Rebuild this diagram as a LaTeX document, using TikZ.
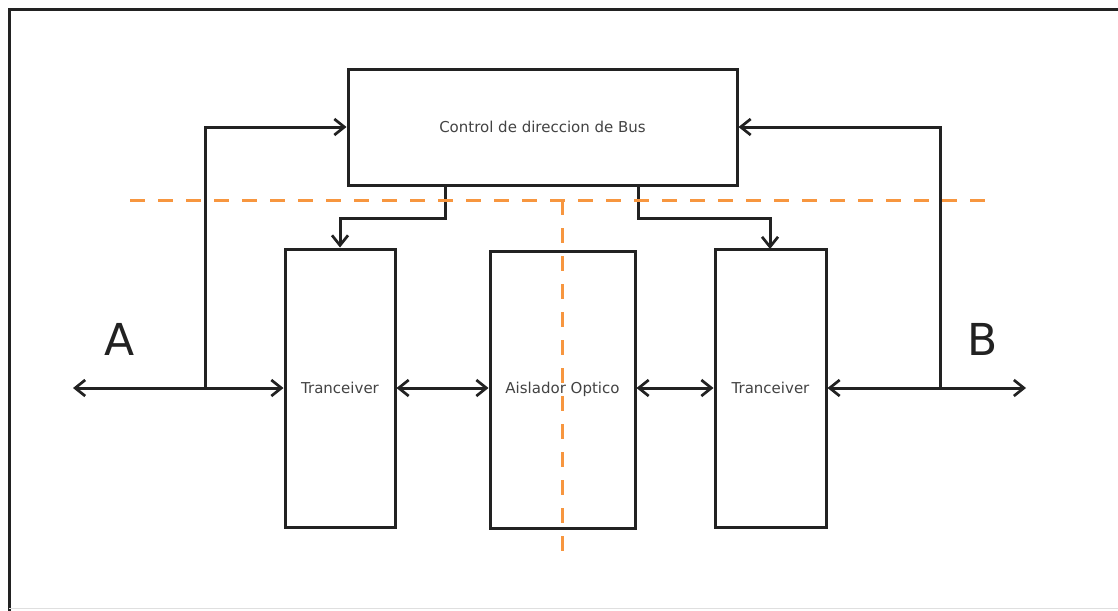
\documentclass[tikz,border=0pt]{standalone}
\usepackage{fontspec}
\setmainfont{DejaVu Sans}
\usetikzlibrary{arrows.meta}
\definecolor{guide}{HTML}{F7963F}
\definecolor{ink}{HTML}{222222}
\tikzset{
  block/.style={draw=ink, line width=3pt, fill=white, inner sep=0pt},
  blocklabel/.style={font=\fontsize{15}{17}\selectfont, text=ink!85},
  wire/.style={draw=ink, line width=3pt},
  tip/.style={-{Straight Barb[length=10pt,width=16pt,line width=2.7pt]}},
  twotip/.style={{Straight Barb[length=10pt,width=16pt,line width=2.7pt]}-{Straight Barb[length=10pt,width=16pt,line width=2.7pt]}},
  guideline/.style={draw=guide, line width=3pt, dash pattern=on 15pt off 13pt},
  portlabel/.style={font=\fontsize{44}{48}\selectfont, text=ink}
}
\begin{document}
\begin{tikzpicture}[x=1pt,y=-1pt]
  \useasboundingbox (0,0) rectangle (1118,610);
  \fill[white] (0,0) rectangle (1118,610);
  % outer frame
  \draw[ink, line width=3pt] (9,612) -- (9,10) -- (1125,10);
  \draw[gray!25, line width=1.5pt] (9,608.5) -- (1125,608.5);

  % blocks
  \node[block, minimum width=389pt, minimum height=116pt] (ctrl) at (542.5,127) {};
  \node[blocklabel] at (ctrl.center) {Control de direccion de Bus};
  \node[block, minimum width=110pt, minimum height=278pt] (tl) at (340,388) {};
  \node[blocklabel] at (tl.center) {Tranceiver};
  \node[block, minimum width=145pt, minimum height=277pt] (iso) at (562.5,389.5) {};
  \node[block, minimum width=111pt, minimum height=278pt] (tr) at (770.5,388) {};
  \node[blocklabel] at (tr.center) {Tranceiver};

  % bus ends and branch points
  \coordinate (aend) at (73,388);
  \coordinate (bend) at (1026,388);
  \coordinate (ja) at (205,388);
  \coordinate (jb) at (940,388);

  % bus connections
  \draw[wire, twotip] (aend) -- (tl.west |- aend);
  \draw[wire, twotip] (tl.east |- aend) -- (iso.west |- aend);
  \draw[wire, twotip] (iso.east |- aend) -- (tr.west |- aend);
  \draw[wire, twotip] (tr.east |- aend) -- (bend);

  % feedback to bus direction control
  \draw[wire, tip] (ja) -- (205,127) -- (ctrl.west);
  \draw[wire, tip] (jb) -- (940,127) -- (ctrl.east);

  % direction control outputs
  \draw[wire, tip] (445,185) -- (445,218) -- (340,218) -- (tl.north);
  \draw[wire, tip] (638,185) -- (638,218) -- (770,218) -- (770,249);

  % isolation boundaries
  \draw[guideline] (130,200) -- (990,200);
  \draw[guideline] (562,200) -- (562,552);

  \node[blocklabel] at (iso.center) {Aislador Optico};

  % port labels
  \node[portlabel] at (120,339) {A};
  \node[portlabel] at (983,339) {B};
\end{tikzpicture}
\end{document}
